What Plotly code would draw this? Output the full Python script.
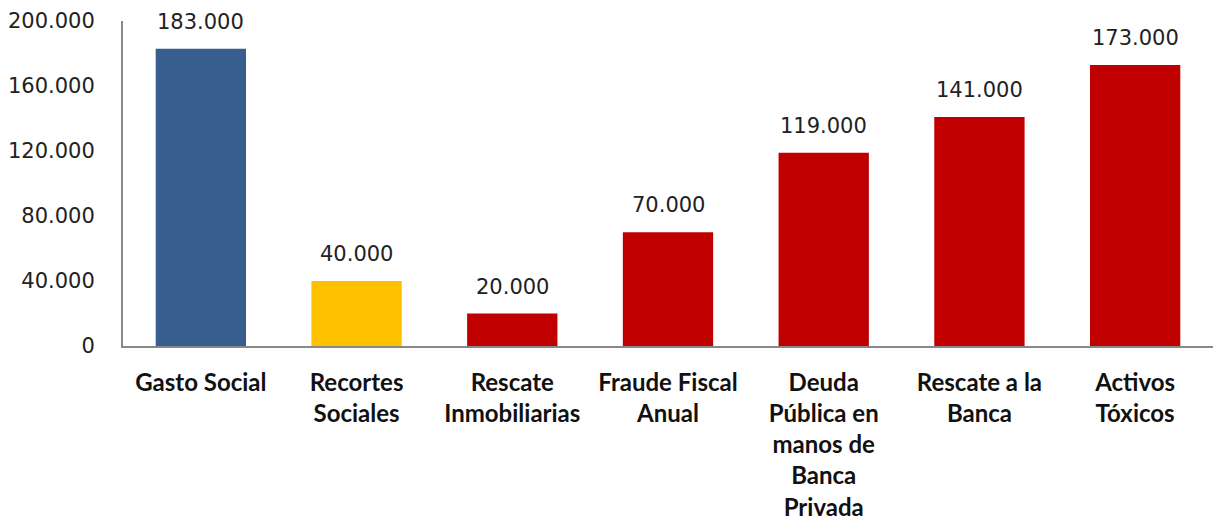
import plotly.graph_objects as go

categories = [
    "Gasto Social",
    "Recortes<br>Sociales",
    "Rescate<br>Inmobiliarias",
    "Fraude Fiscal<br>Anual",
    "Deuda<br>Pública en<br>manos de<br>Banca<br>Privada",
    "Rescate a la<br>Banca",
    "Activos<br>Tóxicos",
]
values = [183000, 40000, 20000, 70000, 119000, 141000, 173000]
bar_colors = ["#375E8F", "#FFC000", "#C00000", "#C00000", "#C00000", "#C00000", "#C00000"]
y_ticks = [0, 40000, 80000, 120000, 160000, 200000]

fig = go.Figure()
fig.add_trace(go.Bar(
    x=categories,
    y=values,
    marker=dict(color=bar_colors, line=dict(width=0)),
    hoverinfo="skip",
))

# value labels above each bar
for cat, v in zip(categories, values):
    fig.add_annotation(
        x=cat, y=v, xref="x", yref="y",
        text=f"{v:,}".replace(",", "."),
        showarrow=False, yanchor="bottom", yshift=13,
        font=dict(family="DejaVu Sans", size=21, color="#222222"),
    )

fig.update_layout(
    width=1213, height=522,
    margin=dict(l=123, r=0, t=21, b=176),
    paper_bgcolor="white", plot_bgcolor="white",
    showlegend=False,
    bargap=0.42,
    separators=",.",
    xaxis=dict(
        showline=True, linecolor="#888888", linewidth=2,
        showgrid=False, ticks="",
        tickfont=dict(family="Lato", size=24, color="#111111", weight="bold"),
        ticklabelstandoff=14,
        fixedrange=True,
    ),
    yaxis=dict(
        range=[0, 200000],
        tickvals=y_ticks,
        tickformat=",d",
        showline=True, linecolor="#888888", linewidth=2,
        showgrid=False, zeroline=False, ticks="",
        tickfont=dict(family="DejaVu Sans", size=21, color="#222222"),
        ticklabelstandoff=22,
        fixedrange=True,
    ),
)

fig.write_html("out.html")
